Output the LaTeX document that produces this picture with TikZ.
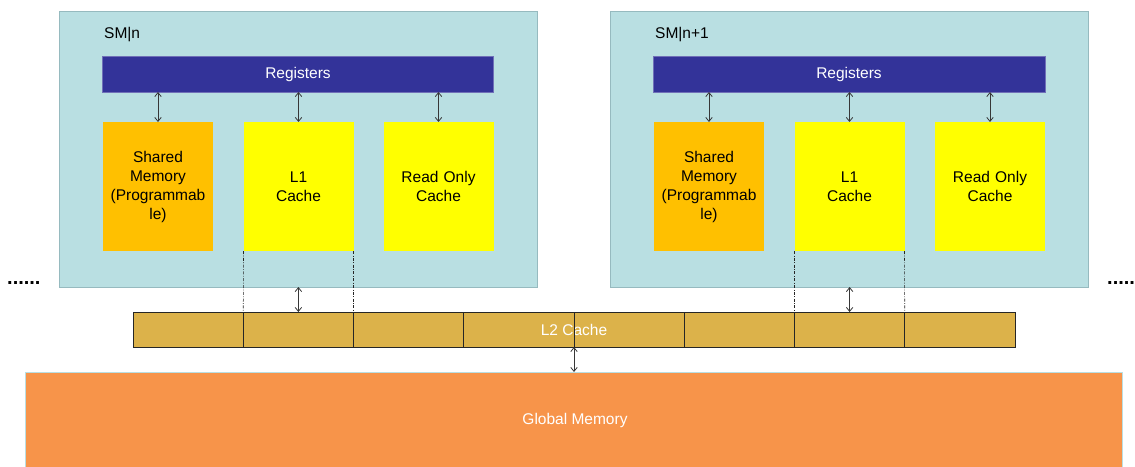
\documentclass[tikz,border=0pt]{standalone}
\usepackage{fontspec}
\setmainfont{Liberation Sans}
\usetikzlibrary{arrows.meta}
\definecolor{smfill}{RGB}{185,223,226}
\definecolor{smedge}{RGB}{150,186,191}
\definecolor{regfill}{RGB}{51,51,153}
\definecolor{shfill}{RGB}{255,192,0}
\definecolor{lfill}{RGB}{255,255,0}
\definecolor{ltwofill}{RGB}{220,178,74}
\definecolor{globfill}{RGB}{247,148,74}
\definecolor{arrcol}{RGB}{55,55,55}
\begin{document}
\begin{tikzpicture}[x=1pt,y=-1pt,
  every node/.style={font=\fontsize{15.5}{19}\selectfont},
  blk/.style={rectangle, inner sep=0pt, outer sep=0pt, anchor=north west, align=center},
  smbox/.style={blk, fill=smfill, draw=smedge, line width=0.8pt, minimum width=478pt, minimum height=276pt},
  regbox/.style={blk, fill=regfill, draw=regfill!70!white, line width=0.5pt, text=white, minimum width=391pt, minimum height=36pt},
  membox/.style={blk, minimum width=110pt, minimum height=129pt, text width=108pt},
  cellbox/.style={blk, draw=black!85, line width=0.8pt, minimum width=110.25pt, minimum height=35pt},
  arr/.style={draw=arrcol, line width=0.8pt, {Straight Barb[length=4pt,width=6.5pt]}-{Straight Barb[length=4pt,width=6.5pt]}},
  guide/.style={draw=black!85, line width=0.6pt, dash pattern=on 3pt off 1.5pt on 0.8pt off 1.5pt},
  dots/.style={inner sep=0pt, anchor=west, font=\fontsize{20}{20}\selectfont\bfseries}
]
\useasboundingbox (0,0) rectangle (1135,466);

% SM n
\node[smbox] (smA) at (59,11) {};
\node[inner sep=0pt, anchor=west] (smAlab) at (104,35) {SM|n};
\node[regbox] (regA) at (102.5,56) {Registers};
\node[membox, fill=shfill] (shA) at (103,122) {Shared\\Memory\\(Programmab\\le)};
\node[membox, fill=lfill] (l1A) at (243.5,122) {L1\\Cache};
\node[membox, fill=lfill] (roA) at (383.5,122) {Read Only\\Cache};

% SM n+1
\node[smbox] (smB) at (610,11) {};
\node[inner sep=0pt, anchor=west] (smBlab) at (655,35) {SM|n+1};
\node[regbox, minimum width=392pt] (regB) at (653,56) {Registers};
\node[membox, fill=shfill] (shB) at (654,122) {Shared\\Memory\\(Programmab\\le)};
\node[membox, fill=lfill] (l1B) at (794.5,122) {L1\\Cache};
\node[membox, fill=lfill] (roB) at (935,122) {Read Only\\Cache};

% L2 cache
\node[blk, fill=ltwofill, draw=black!70, line width=0.8pt, minimum width=882pt, minimum height=35pt] (l2) at (133,312) {};
\node[text=white, inner sep=0pt] (l2lab) at (l2.center) {L2 Cache};
\foreach \i in {1,...,8}{
  \node[cellbox] (c\i) at ({133+110.25*(\i-1)},312) {};
}

% Global memory
\node[blk, fill=globfill, draw=smfill, line width=0.8pt, minimum width=1097pt, minimum height=100pt] (glob) at (25,372) {};
\node[text=white, inner sep=0pt] (globlab) at (575,420) {Global Memory};

% dots
\node[dots] (dotsL) at (7,283) {......};
\node[dots] (dotsR) at (1107,283) {.....};

% arrows inside SMs
\draw[arr] (shA.north |- regA.south) -- (shA.north);
\draw[arr] (l1A.north |- regA.south) -- (l1A.north);
\draw[arr] (roA.north |- regA.south) -- (roA.north);
\draw[arr] (shB.north |- regB.south) -- (shB.north);
\draw[arr] (l1B.north |- regB.south) -- (l1B.north);
\draw[arr] (roB.north |- regB.south) -- (roB.north);

% L1 to L2
\draw[guide] (l1A.south west) -- (c2.north west);
\draw[guide] (l1A.south east) -- (c2.north east);
\draw[guide] (l1B.south west) -- (c7.north west);
\draw[guide] (l1B.south east) -- (c7.north east);
\draw[arr] (c2.north |- smA.south) -- (c2.north);
\draw[arr] (c7.north |- smB.south) -- (c7.north);

% L2 to global
\draw[arr] (c4.south east) -- (c4.south east |- glob.north);
\end{tikzpicture}
\end{document}
